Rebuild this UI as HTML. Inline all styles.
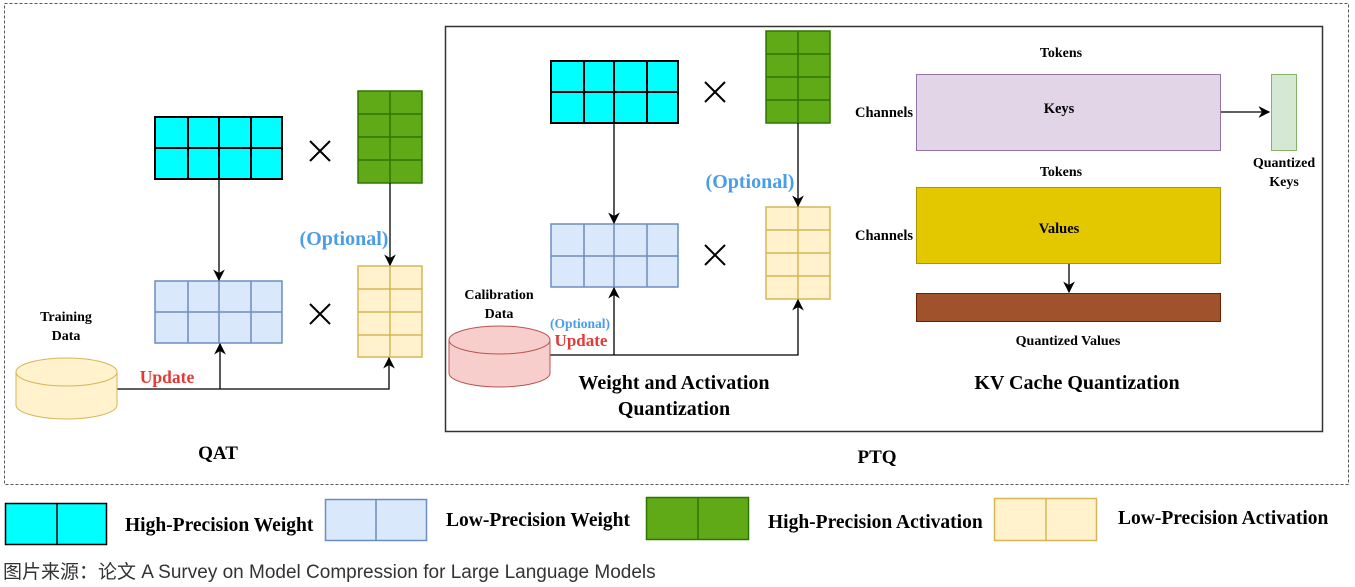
<!DOCTYPE html>
<html><head><meta charset="utf-8"><style>
html,body{margin:0;padding:0;background:#fff;width:1355px;height:587px;overflow:hidden}
svg{display:block}
.b{font-family:"Liberation Serif",serif;font-weight:bold}
</style></head><body>
<svg width="1355" height="587" viewBox="0 0 1355 587" xmlns="http://www.w3.org/2000/svg">
<defs><marker id="a" viewBox="0 0 10 10" refX="9" refY="5" markerWidth="9" markerHeight="9" orient="auto"><path d="M0,0 L10,5 L0,10 L3,5 z" fill="#000"/></marker></defs>
<rect x="4.5" y="3.5" width="1344" height="481" fill="none" stroke="#555" stroke-dasharray="3,2"/>
<rect x="445.5" y="26.5" width="877" height="405" fill="none" stroke="#333" stroke-width="1.5"/>

<!-- QAT -->
<g stroke="#000" stroke-width="2"><rect x="155" y="117" width="127" height="62" fill="#00ffff"/><path d="M188 117V179M219 117V179M251 117V179M155 148H282"/></g>
<g stroke="#2d7600" stroke-width="1.5"><rect x="358" y="91" width="64" height="92" fill="#60a917"/><path d="M390 91V183M358 114H422M358 137H422M358 160H422"/></g>
<g stroke="#6c8ebf" stroke-width="1.5"><rect x="155" y="281" width="127" height="62" fill="#dae8fc"/><path d="M188 281V343M219 281V343M251 281V343M155 312H282"/></g>
<g stroke="#d6b656" stroke-width="1.5"><rect x="358" y="266" width="64" height="91" fill="#fff2cc"/><path d="M390 266V357M358 289H422M358 312H422M358 335H422"/></g>
<g stroke="#000" stroke-width="2"><path d="M310 141l20 20M330 141l-20 20M310 304l20 20M330 304l-20 20"/></g>
<g stroke="#000" stroke-width="1.3" fill="none"><path d="M219 179V280" marker-end="url(#a)"/><path d="M390 183V265" marker-end="url(#a)"/><path d="M117 389H389V358" marker-end="url(#a)"/><path d="M220 389V344" marker-end="url(#a)"/></g>
<g stroke="#d6b656" fill="#fff2cc"><path d="M16 372V405A50.5 14 0 0 0 117 405V372"/><ellipse cx="66.5" cy="372" rx="50.5" ry="14"/></g>
<text class="b" x="66" y="321" font-size="14" text-anchor="middle">Training</text>
<text class="b" x="66" y="340" font-size="14" text-anchor="middle">Data</text>
<text class="b" x="167" y="383" font-size="17.5" fill="#e53935" text-anchor="middle">Update</text>
<text class="b" x="344" y="245" font-size="20" fill="#4a9de8" text-anchor="middle">(Optional)</text>
<text class="b" x="218" y="459" font-size="19" text-anchor="middle">QAT</text>

<!-- PTQ W&A -->
<g stroke="#000" stroke-width="2"><rect x="551" y="61" width="127" height="62" fill="#00ffff"/><path d="M584 61V123M614 61V123M647 61V123M551 92H678"/></g>
<g stroke="#2d7600" stroke-width="1.5"><rect x="766" y="31" width="64" height="92" fill="#60a917"/><path d="M798 31V123M766 54H830M766 77H830M766 100H830"/></g>
<g stroke="#6c8ebf" stroke-width="1.5"><rect x="551" y="224" width="127" height="63" fill="#dae8fc"/><path d="M584 224V287M614 224V287M647 224V287M551 256H678"/></g>
<g stroke="#d6b656" stroke-width="1.5"><rect x="766" y="207" width="64" height="92" fill="#fff2cc"/><path d="M798 207V299M766 230H830M766 253H830M766 276H830"/></g>
<g stroke="#000" stroke-width="2"><path d="M705 82l20 20M725 82l-20 20M705 245l20 20M725 245l-20 20"/></g>
<g stroke="#000" stroke-width="1.3" fill="none"><path d="M614 123V223" marker-end="url(#a)"/><path d="M798 123V206" marker-end="url(#a)"/><path d="M550 355H798V300" marker-end="url(#a)"/><path d="M614 355V288" marker-end="url(#a)"/></g>
<g stroke="#b85450" fill="#f8cecc"><path d="M449 340V373A50.5 14 0 0 0 550 373V340"/><ellipse cx="499.5" cy="340" rx="50.5" ry="14"/></g>
<text class="b" x="499" y="299" font-size="14" text-anchor="middle">Calibration</text>
<text class="b" x="499" y="318" font-size="14" text-anchor="middle">Data</text>
<text class="b" x="580" y="328" font-size="13.5" fill="#4a9de8" text-anchor="middle">(Optional)</text>
<text class="b" x="581" y="346" font-size="17" fill="#e53935" text-anchor="middle">Update</text>
<text class="b" x="750" y="188" font-size="20" fill="#4a9de8" text-anchor="middle">(Optional)</text>
<text class="b" x="674" y="389" font-size="20" text-anchor="middle">Weight and Activation</text>
<text class="b" x="674" y="415" font-size="20" text-anchor="middle">Quantization</text>

<!-- KV -->
<text class="b" x="1061" y="57" font-size="14" text-anchor="middle">Tokens</text>
<rect x="916.5" y="74.5" width="304" height="76" fill="#e1d5e7" stroke="#9673a6"/>
<text class="b" x="1059" y="113" font-size="14.5" text-anchor="middle">Keys</text>
<text class="b" x="884" y="117" font-size="14.5" text-anchor="middle">Channels</text>
<path d="M1221 112H1269" stroke="#000" stroke-width="1.3" marker-end="url(#a)"/>
<rect x="1271.5" y="74.5" width="25" height="76" fill="#d5e8d4" stroke="#82b366"/>
<text class="b" x="1284" y="167" font-size="14" text-anchor="middle">Quantized</text>
<text class="b" x="1284" y="186" font-size="14" text-anchor="middle">Keys</text>
<text class="b" x="1061" y="176" font-size="14" text-anchor="middle">Tokens</text>
<rect x="916.5" y="187.5" width="304" height="76" fill="#e3c800" stroke="#b09500"/>
<text class="b" x="1059" y="233" font-size="14.5" text-anchor="middle">Values</text>
<text class="b" x="884" y="240" font-size="14.5" text-anchor="middle">Channels</text>
<path d="M1069 264V292" stroke="#000" stroke-width="1.3" marker-end="url(#a)"/>
<rect x="916.5" y="293.5" width="304" height="28" fill="#a0522d" stroke="#6d1f00"/>
<text class="b" x="1068" y="345" font-size="14" text-anchor="middle">Quantized Values</text>
<text class="b" x="1077" y="389" font-size="20" text-anchor="middle">KV Cache Quantization</text>
<text class="b" x="877" y="463" font-size="19" text-anchor="middle">PTQ</text>

<!-- legend -->
<g stroke="#000" stroke-width="1.5"><rect x="5.5" y="503.5" width="101" height="41" fill="#00ffff"/><path d="M57 503V545"/></g>
<text class="b" x="125" y="531" font-size="19.5">High-Precision Weight</text>
<g stroke="#6c8ebf" stroke-width="1.5"><rect x="325.5" y="499.5" width="101" height="41" fill="#dae8fc"/><path d="M376 499V541"/></g>
<text class="b" x="446" y="526" font-size="19.5">Low-Precision Weight</text>
<g stroke="#2d7600" stroke-width="1.5"><rect x="646.5" y="497.5" width="102" height="42" fill="#60a917"/><path d="M698 497V540"/></g>
<text class="b" x="768" y="528" font-size="19.5">High-Precision Activation</text>
<g stroke="#d6b656" stroke-width="1.5"><rect x="994.5" y="498.5" width="102" height="42" fill="#fff2cc"/><path d="M1046 498V541"/></g>
<text class="b" x="1118" y="524" font-size="19.5">Low-Precision Activation</text>
<text x="3" y="578" font-size="19" fill="#333" font-family="'Liberation Sans','Noto Sans CJK SC',sans-serif">图片来源：论文 A Survey on Model Compression for Large Language Models</text>
</svg>
</body></html>
